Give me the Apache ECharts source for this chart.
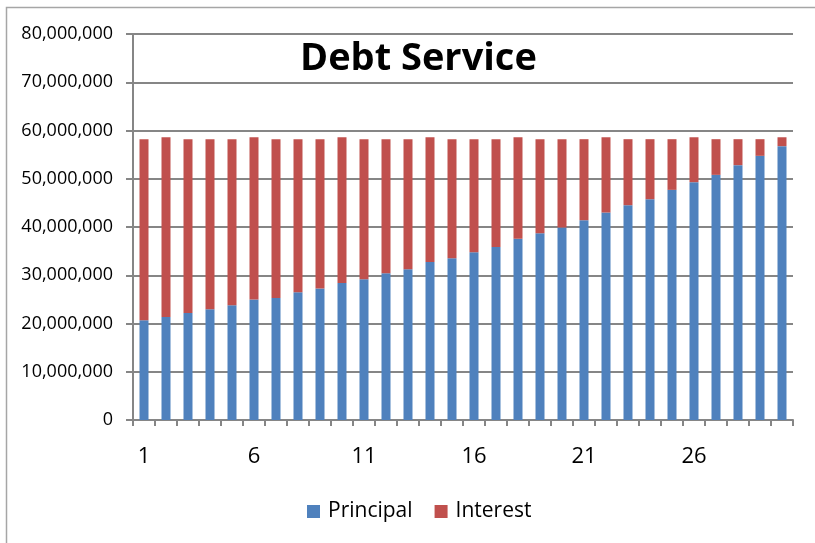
<!DOCTYPE html>
<html>
<head>
<meta charset="utf-8">
<script src="https://cdn.jsdelivr.net/npm/echarts@6/dist/echarts.min.js"></script>
<style>
html,body{margin:0;padding:0;background:#fff;}
#chart{width:815px;height:543px;}
</style>
</head>
<body>
<div id="chart"></div>
<script>
// Data
const years = Array.from({length: 30}, (_, i) => String(i + 1));
const principal = [
  20.68e6, 21.36e6, 22.19e6, 22.95e6, 23.78e6, 24.95e6, 25.30e6, 26.48e6, 27.23e6, 28.41e6,
  29.17e6, 30.41e6, 31.24e6, 32.77e6, 33.53e6, 34.77e6, 35.88e6, 37.54e6, 38.71e6, 39.89e6,
  41.41e6, 43.00e6, 44.52e6, 45.76e6, 47.70e6, 49.29e6, 50.81e6, 52.82e6, 54.75e6, 56.76e6
];
const interest = [
  37.52e6, 37.24e6, 36.01e6, 35.25e6, 34.42e6, 33.65e6, 32.90e6, 31.72e6, 30.97e6, 30.19e6,
  29.03e6, 27.79e6, 26.96e6, 25.83e6, 24.67e6, 23.43e6, 22.32e6, 21.06e6, 19.49e6, 18.31e6,
  16.79e6, 15.60e6, 13.68e6, 12.44e6, 10.50e6, 9.31e6, 7.39e6, 5.38e6, 3.45e6, 1.84e6
];
const seriesNames = ['Principal', 'Interest'];
const titleText = 'Debt Service';

const chart = echarts.init(document.getElementById('chart'));
const font = 'Open Sans, Lato, sans-serif';
chart.setOption({
  animation: false,
  backgroundColor: '#ffffff',
  graphic: [{
    type: 'rect',
    shape: {x: 6.5, y: 7.5, width: 1000, height: 1000},
    style: {fill: 'none', stroke: '#a6a6a6', lineWidth: 1.5},
    silent: true, z: -1
  }],
  title: {
    text: titleText,
    left: 295,
    top: 35,
    textStyle: {fontFamily: font, fontSize: 38, fontWeight: 'bold', color: '#000'}
  },
  legend: {
    data: seriesNames,
    left: 302,
    top: 496,
    itemWidth: 13,
    itemHeight: 13,
    itemGap: 22,
    icon: 'rect',
    textStyle: {fontFamily: font, fontSize: 21, color: '#000', padding: [0, 0, 0, 3]}
  },
  grid: {left: 133, right: 22, top: 34, bottom: 123},
  xAxis: {
    type: 'category',
    data: years,
    boundaryGap: true,
    axisLine: {lineStyle: {color: '#868686', width: 2}},
    axisTick: {show: true, alignWithLabel: false, interval: 0, length: 6, lineStyle: {color: '#868686', width: 2}},
    axisLabel: {interval: 4, fontFamily: font, fontSize: 22, color: '#000', margin: 26}
  },
  yAxis: {
    type: 'value',
    min: 0, max: 80000000, interval: 10000000,
    axisLine: {show: true, lineStyle: {color: '#868686', width: 2}},
    axisTick: {show: true, length: 7, lineStyle: {color: '#868686', width: 2}},
    splitLine: {lineStyle: {color: '#868686', width: 2}},
    axisLabel: {
      fontFamily: font, fontSize: 18, color: '#000', margin: 20,
      formatter: v => v.toLocaleString('en-US')
    }
  },
  series: [
    {name: seriesNames[0], type: 'bar', stack: 'total', data: principal, barWidth: 9,
     itemStyle: {color: '#4F81BD'}},
    {name: seriesNames[1], type: 'bar', stack: 'total', data: interest, barWidth: 9,
     itemStyle: {color: '#C0504D'}}
  ]
});
</script>
</body>
</html>
